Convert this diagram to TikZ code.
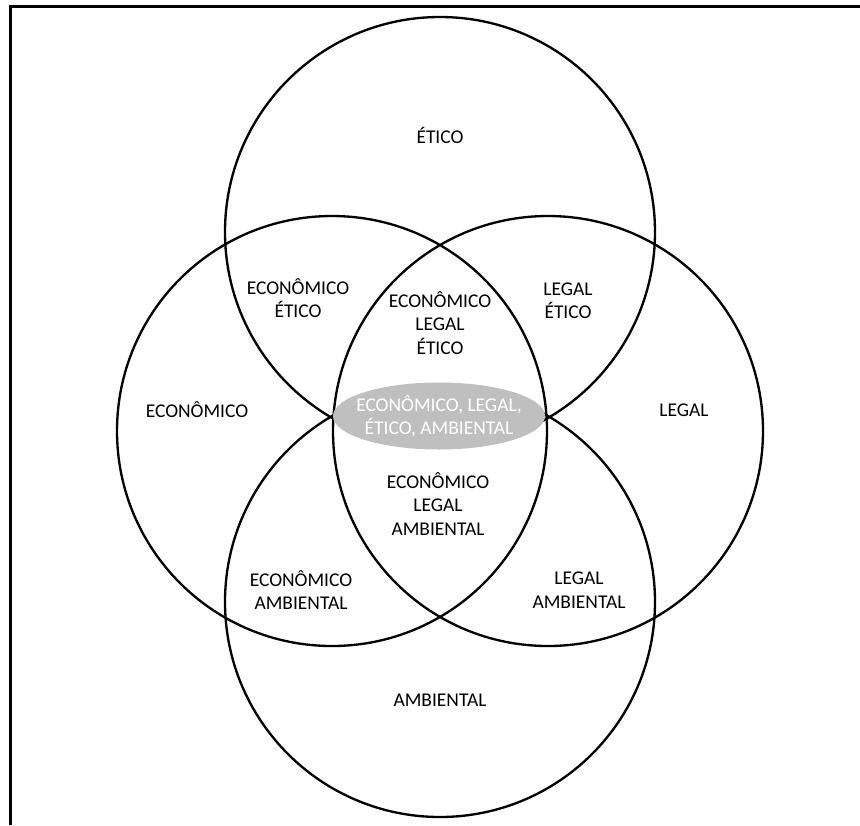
\documentclass[tikz,border=0pt]{standalone}
\usepackage{fontspec}
\setmainfont{Carlito}
\usepackage{xcolor}
\usepackage{tikz}

\tikzset{
  venn/.style={draw, line width=1.75pt},
  region/.style={inner sep=0.75pt, align=center, font=\fontsize{14.6}{17.6}\selectfont},
}

\begin{document}
\begin{tikzpicture}[x=0.75pt,y=0.75pt,yscale=-1,xscale=1]
\useasboundingbox (0,0) rectangle (860,825);

%Straight Lines (frame)
\draw [line width=2.25pt]  (10,825) -- (10,6.7) -- (860,6.7) ;

%Shape: Circle [etico]
\draw [venn]  (440,232) circle (215) ;
%Shape: Circle [economico]
\draw [venn]  (332,431) circle (215) ;
%Shape: Circle [legal]
\draw [venn]  (548,431) circle (215) ;
%Shape: Circle [ambiental]
\draw [venn]  (440,602) circle (215) ;

%Shape: Ellipse
\fill [gray!50]  (439,416) ellipse (106 and 33.5) ;

% Text Node
\node (etico) [region] at (440,135) {ÉTICO};
% Text Node
\node (econ) [region] at (197,410) {ECONÔMICO};
% Text Node
\node (legal) [region] at (684,410) {LEGAL};
% Text Node
\node (amb) [region] at (440,700) {AMBIENTAL};
% Text Node
\node (econEtico) [region] at (298,298) {ECONÔMICO\\ÉTICO};
% Text Node
\node (legalEtico) [region] at (568,301) {LEGAL\\ÉTICO};
% Text Node
\node (econLegalEtico) [region] at (440,323) {ECONÔMICO\\LEGAL\\ÉTICO};
% Text Node
\node (todos) [region, text=white] at (439,416) {ECONÔMICO, LEGAL,\\ÉTICO, AMBIENTAL};
% Text Node
\node (econLegalAmb) [region] at (438,504) {ECONÔMICO\\LEGAL\\AMBIENTAL};
% Text Node
\node (econAmb) [region] at (301,590) {ECONÔMICO\\AMBIENTAL};
% Text Node
\node (legalAmb) [region] at (579,590) {LEGAL\\AMBIENTAL};

\end{tikzpicture}
\end{document}
